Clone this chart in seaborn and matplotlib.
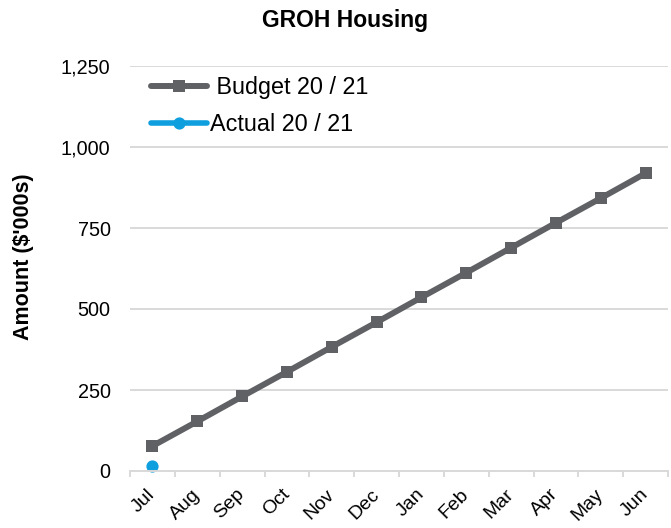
import matplotlib
matplotlib.use("Agg")
import matplotlib.pyplot as plt
import seaborn as sns
import numpy as np
import pandas as pd

months = ['Jul', 'Aug', 'Sep', 'Oct', 'Nov', 'Dec', 'Jan', 'Feb', 'Mar', 'Apr', 'May', 'Jun']
budget = [77, 153, 230, 306, 383, 459, 536, 612, 689, 766, 842, 919]
actual = [14]
y_ticks = [0, 250, 500, 750, 1000, 1250]

sns.set_theme(style='white')
plt.rcParams['font.family'] = ['Liberation Sans', 'DejaVu Sans']

fig = plt.figure(figsize=(6.71, 5.28), dpi=100)
# plot area: x 130..668 px, y 66..471 px
ax = fig.add_axes([130 / 671, 1 - 471 / 528, 538 / 671, 405 / 528])

x = np.arange(len(months))
df_budget = pd.DataFrame({'x': x, 'amount': budget})
df_actual = pd.DataFrame({'x': x[:len(actual)], 'amount': actual})

sns.lineplot(data=df_budget, x='x', y='amount', ax=ax, color='#5f6164', linewidth=4.3,
             marker='s', markersize=8.6, markeredgewidth=0, label=' Budget 20 / 21',
             clip_on=False)
sns.lineplot(data=df_actual, x='x', y='amount', ax=ax, color='#0f9ede', linewidth=4.0,
             marker='o', markersize=8.8, markeredgewidth=0, label='Actual 20 / 21',
             clip_on=False)

ax.set_xlim(-0.5, len(months) - 0.5)
ax.set_ylim(0, 1250)
ax.set_yticks(y_ticks)
ax.set_yticklabels([f'{v:,}' for v in y_ticks], fontsize=14.3, color='black')
ax.set_xticks(x)
ax.set_xticklabels(months, rotation=45, fontsize=14, color='black',
                   ha='right', va='center', rotation_mode='anchor')
ax.set_xticks(np.arange(-0.5, len(months), 1), minor=True)
ax.tick_params(axis='x', which='major', length=0, pad=15)
ax.tick_params(axis='x', which='minor', length=4.3, color='#d9d9d9', width=1.4,
               direction='out', bottom=True)
ax.tick_params(axis='y', length=0, pad=14)

ax.grid(axis='y', color='#d9d9d9', linewidth=1.4)
ax.set_axisbelow(True)
for s in ['left', 'right', 'top']:
    ax.spines[s].set_visible(False)
ax.spines['bottom'].set_color('#d9d9d9')
ax.spines['bottom'].set_linewidth(1.4)

ax.set_xlabel('')
ax.set_ylabel("Amount ($'000s)", fontsize=15.5, fontweight='bold', color='black')
ax.yaxis.set_label_coords(-0.178, 0.528)

fig.text(345 / 671, 1 - 27 / 528, 'GROH Housing', fontsize=16.5, fontweight='bold',
         ha='center', va='baseline', color='black')

leg = ax.legend(loc='upper left', bbox_to_anchor=(0.039, 0.975), frameon=False, fontsize=16.8,
                handlelength=2.4, handletextpad=0.15, labelspacing=0.6,
                borderpad=0, borderaxespad=0)
for t in leg.get_texts():
    t.set_color('black')

fig.savefig('out.png', dpi=100)
